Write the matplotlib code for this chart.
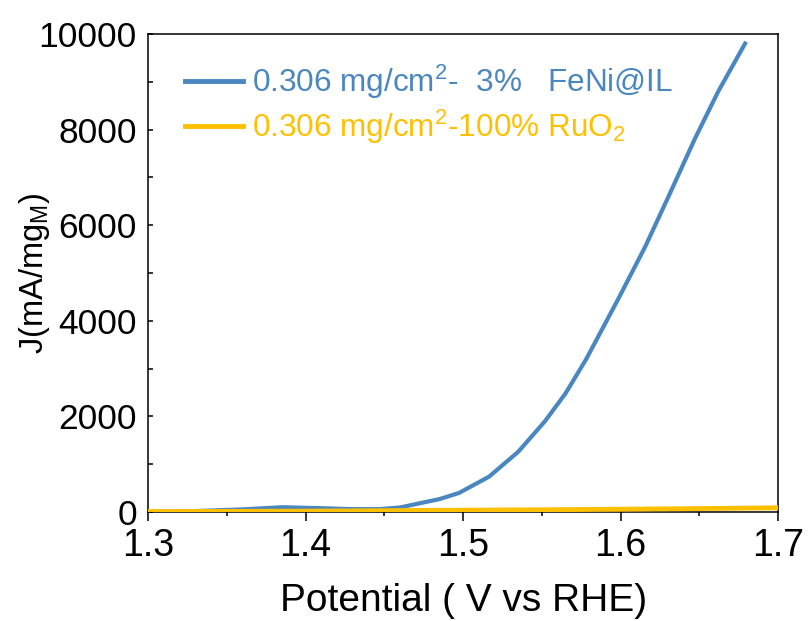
import matplotlib
matplotlib.use("Agg")
import matplotlib.pyplot as plt
from matplotlib.ticker import MultipleLocator, FormatStrFormatter

plt.rcParams['font.family'] = ['Liberation Sans', 'DejaVu Sans']
plt.rcParams['mathtext.fontset'] = 'custom'
plt.rcParams['mathtext.rm'] = 'Liberation Sans'
plt.rcParams['mathtext.it'] = 'Liberation Sans:italic'

# FeNi@IL curve
v_feni = [1.30, 1.33, 1.36, 1.385, 1.41, 1.43, 1.447, 1.46, 1.472, 1.485,
          1.4975, 1.5165, 1.535, 1.552, 1.565, 1.578, 1.590, 1.5987,
          1.6156, 1.6304, 1.6473, 1.662, 1.679]
j_feni = [5, 20, 55, 100, 80, 60, 60, 95, 180, 270,
          400, 740, 1260, 1900, 2480, 3190, 3930, 4470,
          5550, 6600, 7820, 8800, 9800]

# RuO2 curve
v_ruo2 = [1.30, 1.40, 1.45, 1.50, 1.55, 1.60, 1.65, 1.70]
j_ruo2 = [8, 18, 28, 38, 47, 58, 72, 88]

lab_feni = r'0.306 mg/cm$^2$-  3%   FeNi@IL'
lab_ruo2 = r'0.306 mg/cm$^2$-100% RuO$_2$'

blue = '#4a86c0'
gold = '#ffc000'

fig = plt.figure(figsize=(8.12, 6.21), dpi=100)
ax = fig.add_axes([0.1823, 0.1755, 0.776, 0.7697])

ax.plot(v_feni, j_feni, color=blue, lw=3.0, label=lab_feni, zorder=2)
ax.plot(v_ruo2, j_ruo2, color=gold, lw=3.5, label=lab_ruo2, zorder=3)

ax.set_xlim(1.3, 1.7)
ax.set_ylim(0, 10000)
ax.xaxis.set_major_locator(MultipleLocator(0.1))
ax.xaxis.set_minor_locator(MultipleLocator(0.05))
ax.xaxis.set_major_formatter(FormatStrFormatter('%.1f'))
ax.yaxis.set_major_locator(MultipleLocator(2000))
ax.yaxis.set_minor_locator(MultipleLocator(1000))

ax.tick_params(axis='x', which='major', direction='out', length=6.5, width=1.1,
               labelsize=27, pad=5)
ax.tick_params(axis='x', which='minor', direction='out', length=3, width=1.1)
ax.tick_params(axis='y', which='both', direction='in', length=3.5, width=1.1,
               labelsize=25.5, pad=8)

for s in ax.spines.values():
    s.set_linewidth(1.1)

ax.set_xlabel('Potential ( V vs RHE)', fontsize=28, labelpad=14)
ax.set_ylabel(r'J(mA/mg$_\mathrm{M}$)', fontsize=23.5)
ax.yaxis.set_label_coords(-0.152, 0.5)

leg = ax.legend(loc='upper left', bbox_to_anchor=(0.058, 0.94), frameon=False,
                fontsize=22.7, handlelength=1.85, handletextpad=0.3,
                labelspacing=0.2, borderpad=0, borderaxespad=0,
                labelcolor='linecolor')
for h in leg.get_lines():
    h.set_linewidth(3.5)

plt.savefig("out.png", dpi=100)
